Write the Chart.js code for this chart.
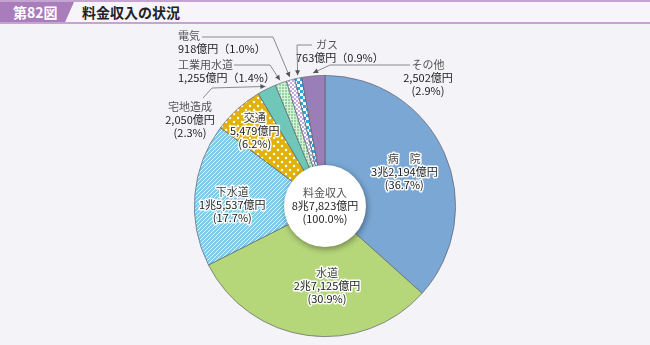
<!DOCTYPE html>
<html lang="ja">
<head>
<meta charset="utf-8">
<script src="https://cdn.jsdelivr.net/npm/chart.js@4.4.1/dist/chart.umd.min.js"></script>
<style>
  html, body { margin: 0; padding: 0; background: #f4f3f8; }
  body { width: 650px; height: 345px; position: relative; overflow: hidden;
         font-family: "Noto Sans CJK JP", "Noto Sans", sans-serif; }
  #bar { position: absolute; left: 0; top: 0; width: 650px; height: 20px;
         background: #f7f5fa; border-top: 2px solid #c6a4d2; border-bottom: 2px solid #c6a4d2; }
  #num { position: absolute; left: 0; top: 0; width: 74px; height: 20px; background: #a97cbc;
         clip-path: polygon(0 0, 100% 0, 88% 100%, 0 100%); color: #fff; font-size: 14px;
         font-weight: bold; line-height: 20px; padding-left: 13px; box-sizing: border-box; }
  #ttl { position: absolute; left: 82px; top: 0; font-size: 14px; font-weight: bold;
         line-height: 20px; color: #222; }
  canvas { position: absolute; left: 0; top: 0; }
</style>
</head>
<body>
<div id="bar"><div id="num">第82図</div><div id="ttl">料金収入の状況</div></div>
<canvas id="pie" width="650" height="345"></canvas>
<script>
// 料金収入（億円）
const categories = ['病院', '水道', '下水道', '交通', '宅地造成', '工業用水道', '電気', 'ガス', 'その他'];
const amounts = [32194, 27125, 15537, 5479, 2050, 1255, 918, 763, 2502];
const amountLabels = ['3兆2,194億円', '2兆7,125億円', '1兆5,537億円', '5,479億円', '2,050億円',
  '1,255億円', '918億円', '763億円', '2,502億円'];
const shares = ['36.7', '30.9', '17.7', '6.2', '2.3', '1.4', '1.0', '0.9', '2.9'];
const totalLabel = ['料金収入', '8兆7,823億円', '(100.0%)'];

function tile(w, h, draw) {
  const c = document.createElement('canvas');
  c.width = w; c.height = h;
  draw(c.getContext('2d'));
  return document.getElementById('pie').getContext('2d').createPattern(c, 'repeat');
}

const stripes = tile(4, 4, g => {
  g.fillStyle = '#80cbe8'; g.fillRect(0, 0, 4, 4);
  g.strokeStyle = 'rgba(255,255,255,0.85)'; g.lineWidth = 0.9;
  g.beginPath(); g.moveTo(-1, 5); g.lineTo(5, -1);
  g.moveTo(-1, 1); g.lineTo(1, -1); g.moveTo(3, 5); g.lineTo(5, 3); g.stroke();
});
const dots = tile(8, 8, g => {
  g.fillStyle = '#e2b20c'; g.fillRect(0, 0, 8, 8);
  g.fillStyle = '#ffffff';
  g.beginPath(); g.arc(2, 2, 1.2, 0, 7); g.fill();
  g.beginPath(); g.arc(6, 6, 1.2, 0, 7); g.fill();
});
const grid = tile(3, 3, g => {
  g.fillStyle = '#d6f0da'; g.fillRect(0, 0, 3, 3);
  g.fillStyle = '#92d3a0'; g.fillRect(0, 0, 2, 2);
});
const lavender = tile(4, 4, g => {
  g.fillStyle = '#ffffff'; g.fillRect(0, 0, 4, 4);
  g.fillStyle = '#c3addc'; g.fillRect(0, 0, 2, 2); g.fillRect(2, 2, 2, 2);
});
const cyan = tile(6, 6, g => {
  g.fillStyle = '#ffffff'; g.fillRect(0, 0, 6, 6);
  g.fillStyle = '#25a9e0'; g.fillRect(0, 0, 3, 3); g.fillRect(3, 3, 3, 3);
});

const fills = ['#7aa7d4', '#b6d67a', stripes, dots, '#6ec7b8', grid, lavender, cyan, '#9a7eb7'];

// 内側ラベル: [半径比, 角度補正(度)]
const inside = { 0: [0.66, 1], 1: [0.61, -9], 2: [0.71, -4], 3: [0.79, -1] };
// 外側ラベル: テキスト位置と引出線の折れ点
const outside = {
  4: { lines: ['宅地造成', amountLabels[4], '(' + shares[4] + '%)'], x: 190, y: 107, align: 'center',
       path: [[203, 98], [212, 88]] },
  5: { lines: ['工業用水道', amountLabels[5] + '（' + shares[5] + '%）'], x: 178, y: 65, align: 'left',
       path: [[234, 65], [270, 65]] },
  6: { lines: ['電気', amountLabels[6] + '（' + shares[6] + '%）'], x: 178, y: 36, align: 'left',
       path: [[202, 37], [273, 37]] },
  7: { lines: ['ガス', amountLabels[7] + '（' + shares[7] + '%）'], x: 316, y: 45, align: 'left',
       path: [[312, 45], [297, 45]], x2: 296 },
  8: { lines: ['その他', amountLabels[8], '(' + shares[8] + '%)'], x: 428, y: 65, align: 'center',
       path: [[410, 65], [330, 65]] }
};

const FONT = '"Noto Sans CJK JP", "Noto Sans", sans-serif';

function haloText(ctx, text, x, y, color) {
  ctx.lineJoin = 'round';
  ctx.strokeStyle = 'rgba(255,255,255,0.95)';
  ctx.lineWidth = 3;
  ctx.strokeText(text, x, y);
  ctx.fillStyle = color;
  ctx.fillText(text, x, y);
}

const labelPlugin = {
  id: 'labels',
  afterDatasetsDraw(chart) {
    const ctx = chart.ctx;
    const arcs = chart.getDatasetMeta(0).data;
    const cx = arcs[0].x, cy = arcs[0].y, R = arcs[0].outerRadius;
    ctx.save();
    ctx.font = '11px ' + FONT;
    ctx.textBaseline = 'middle';

    // 内側ラベル
    Object.keys(inside).forEach(k => {
      const i = +k, a = arcs[i];
      const mid = (a.startAngle + a.endAngle) / 2 + inside[i][1] * Math.PI / 180;
      const r = R * inside[i][0];
      const x = cx + r * Math.cos(mid), y = cy + r * Math.sin(mid);
      ctx.textAlign = 'center';
      const name = i === 0 ? '病　院' : categories[i];
      haloText(ctx, name, x, y - 13, '#444');
      haloText(ctx, amountLabels[i], x, y, '#222');
      haloText(ctx, '(' + shares[i] + '%)', x, y + 13, '#222');
    });

    // 外側ラベルと引出線
    Object.keys(outside).forEach(k => {
      const i = +k, a = arcs[i], o = outside[i];
      const mid = (a.startAngle + a.endAngle) / 2;
      const tip = [cx + (R + 3) * Math.cos(mid), cy + (R + 3) * Math.sin(mid)];
      const pts = o.path.concat([tip]);
      ctx.strokeStyle = '#8a8a8a'; ctx.lineWidth = 1;
      ctx.beginPath();
      ctx.moveTo(pts[0][0], pts[0][1]);
      pts.slice(1).forEach(p => ctx.lineTo(p[0], p[1]));
      ctx.stroke();
      const p = pts[pts.length - 2];
      const ang = Math.atan2(tip[1] - p[1], tip[0] - p[0]);
      ctx.fillStyle = '#555';
      ctx.beginPath();
      ctx.moveTo(tip[0], tip[1]);
      ctx.lineTo(tip[0] - 5 * Math.cos(ang) + 2.5 * Math.sin(ang), tip[1] - 5 * Math.sin(ang) - 2.5 * Math.cos(ang));
      ctx.lineTo(tip[0] - 5 * Math.cos(ang) - 2.5 * Math.sin(ang), tip[1] - 5 * Math.sin(ang) + 2.5 * Math.cos(ang));
      ctx.closePath(); ctx.fill();
      ctx.textAlign = o.align;
      o.lines.forEach((t, j) => {
        const x = (j > 0 && o.x2) ? o.x2 : o.x;
        ctx.fillStyle = j === 0 ? '#555' : '#222';
        ctx.fillText(t, x, o.y + j * 13);
      });
    });

    // 中央の円
    ctx.save();
    ctx.shadowColor = 'rgba(0,0,0,0.4)';
    ctx.shadowBlur = 6; ctx.shadowOffsetX = 1; ctx.shadowOffsetY = 2;
    ctx.fillStyle = '#ffffff';
    ctx.beginPath(); ctx.arc(cx, cy, 41, 0, Math.PI * 2); ctx.fill();
    ctx.restore();
    ctx.textAlign = 'center';
    ctx.fillStyle = '#555'; ctx.fillText(totalLabel[0], cx, cy - 13);
    ctx.fillStyle = '#222'; ctx.fillText(totalLabel[1], cx, cy);
    ctx.fillText(totalLabel[2], cx, cy + 13);
    ctx.restore();
  }
};

new Chart(document.getElementById('pie'), {
  type: 'pie',
  data: {
    labels: categories,
    datasets: [{
      data: amounts,
      backgroundColor: fills,
      borderColor: 'rgba(90,95,105,0.85)',
      borderWidth: 0.8
    }]
  },
  options: {
    responsive: false,
    animation: false,
    devicePixelRatio: 1,
    layout: { padding: { top: 75, bottom: 8 } },
    plugins: { legend: { display: false }, tooltip: { enabled: false } }
  },
  plugins: [labelPlugin]
});
</script>
</body>
</html>
